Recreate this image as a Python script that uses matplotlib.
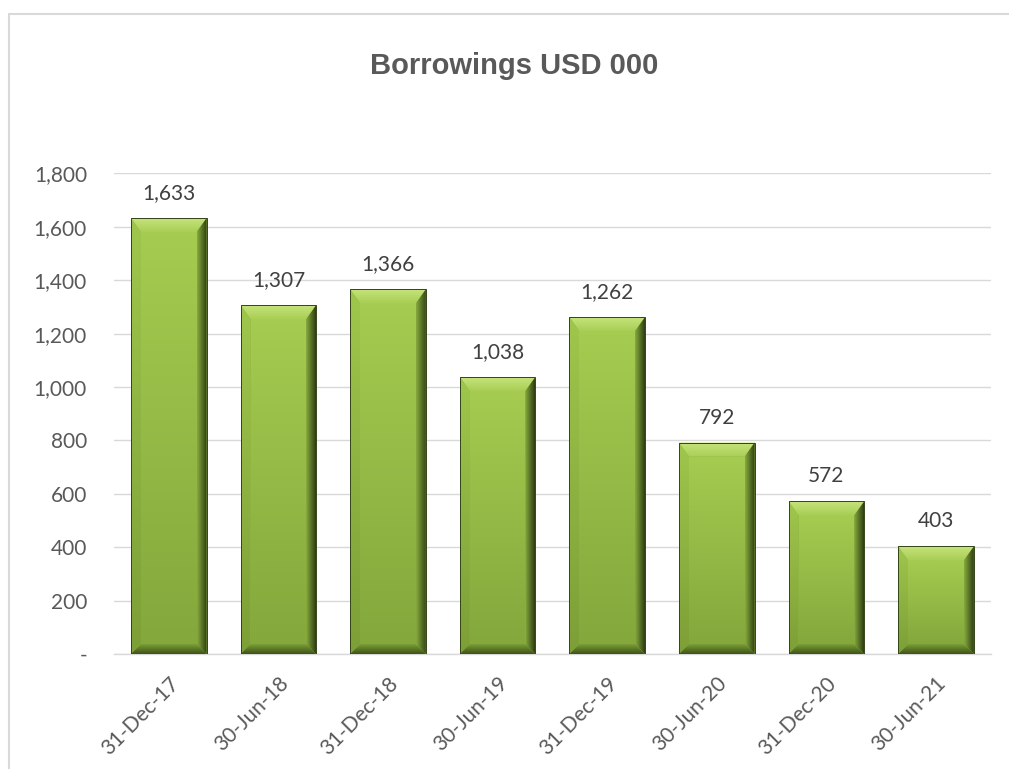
import numpy as np
import matplotlib.pyplot as plt
from matplotlib.patches import Polygon
from matplotlib.colors import LinearSegmentedColormap

dates = ["31-Dec-17", "30-Jun-18", "31-Dec-18", "30-Jun-19",
         "31-Dec-19", "30-Jun-20", "31-Dec-20", "30-Jun-21"]
borrowings = [1633, 1307, 1366, 1038, 1262, 792, 572, 403]
yticks = [0, 200, 400, 600, 800, 1000, 1200, 1400, 1600, 1800]
ylabels = ["-", "200", "400", "600", "800", "1,000", "1,200", "1,400", "1,600", "1,800"]

plt.rcParams['font.family'] = ['Lato', 'DejaVu Sans']

fig = plt.figure(figsize=(10.09, 7.69), dpi=100)
ax = fig.add_axes([0.113, 0.1495, 0.869, 0.625])

x = np.arange(len(dates))
bars = ax.bar(x, borrowings, width=0.69, color="#93b945", edgecolor="none", zorder=3)
ax.set_xlim(-0.5, len(dates) - 0.5)
ax.set_ylim(0, 1800)

inv = ax.transData.inverted()
def px(p):
    return tuple(inv.transform(p))

def grad_fill(pts, c0, c1, vertical):
    # gradient from c0 to c1 across the polygon's bounding box, clipped to it
    dpts = [px(p) for p in pts]
    poly = Polygon(dpts, closed=True, facecolor="none", edgecolor="none",
                   transform=ax.transData)
    ax.add_patch(poly)
    xs = [p[0] for p in dpts]
    ys = [p[1] for p in dpts]
    cmap = LinearSegmentedColormap.from_list("g", [c0, c1])
    g = np.linspace(0, 1, 64)
    img = g.reshape(-1, 1) if vertical else g.reshape(1, -1)
    im = ax.imshow(img, cmap=cmap, extent=(min(xs), max(xs), min(ys), max(ys)),
                   origin="lower", aspect="auto", interpolation="bilinear", zorder=4)
    im.set_clip_path(poly)

for b in bars:
    x0, y0 = ax.transData.transform((b.get_x(), 0))
    x1, y1 = ax.transData.transform((b.get_x() + b.get_width(), b.get_height()))
    t, s = 14, 10
    o = [(x0, y0), (x1, y0), (x1, y1), (x0, y1)]
    i = [(x0 + s, y0 + s), (x1 - s, y0 + s), (x1 - s, y1 - t), (x0 + s, y1 - t)]
    grad_fill(i, "#84a83c", "#a5cb50", True)                       # face
    grad_fill([o[3], o[2], i[2], i[3]], "#a9cf56", "#c6e37c", True)  # top
    grad_fill([o[0], o[3], i[3], i[0]], "#7d9f37", "#9fc64c", True)  # left
    grad_fill([i[1], o[1], o[2], i[2]], "#86aa3e", "#2f3e12", False) # right
    grad_fill([o[0], o[1], i[1], i[0]], "#3e5318", "#7a9e36", True)  # bottom
    ax.add_patch(Polygon([px(p) for p in o], closed=True, facecolor="none",
                         edgecolor="#33451a", linewidth=0.7, zorder=5))

ax.set_xlim(-0.5, len(dates) - 0.5)
ax.set_ylim(0, 1800)

for xi, v in zip(x, borrowings):
    ax.annotate(f"{v:,}", (xi, v), xytext=(0, 18), textcoords="offset points",
                ha="center", va="center", fontsize=15, color="#404040")

ax.set_yticks(yticks)
ax.set_yticklabels(ylabels, fontsize=15, color="#595959")
ax.set_xticks(x)
ax.set_xticklabels(dates, rotation=45, ha="right", va="top", rotation_mode="anchor",
                   fontsize=15, color="#595959")
ax.tick_params(axis="both", length=0)
ax.tick_params(axis="y", pad=19.5)
ax.tick_params(axis="x", pad=14)

ax.grid(axis="y", color="#d9d9d9", linewidth=1, zorder=0)
for sp in ["top", "right", "left"]:
    ax.spines[sp].set_visible(False)
ax.spines["bottom"].set_color("#d9d9d9")
ax.spines["bottom"].set_linewidth(1)

fig.text(0.51, 0.914, "Borrowings USD 000", ha="center", va="center",
         fontsize=21, fontweight="bold", color="#595959", family="Liberation Sans")

fig.add_artist(plt.Rectangle((0.009, -0.05), 1.2, 1.032, transform=fig.transFigure,
                             fill=False, edgecolor="#d9d9d9", linewidth=1.5))

fig.savefig("out.png", dpi=100)
